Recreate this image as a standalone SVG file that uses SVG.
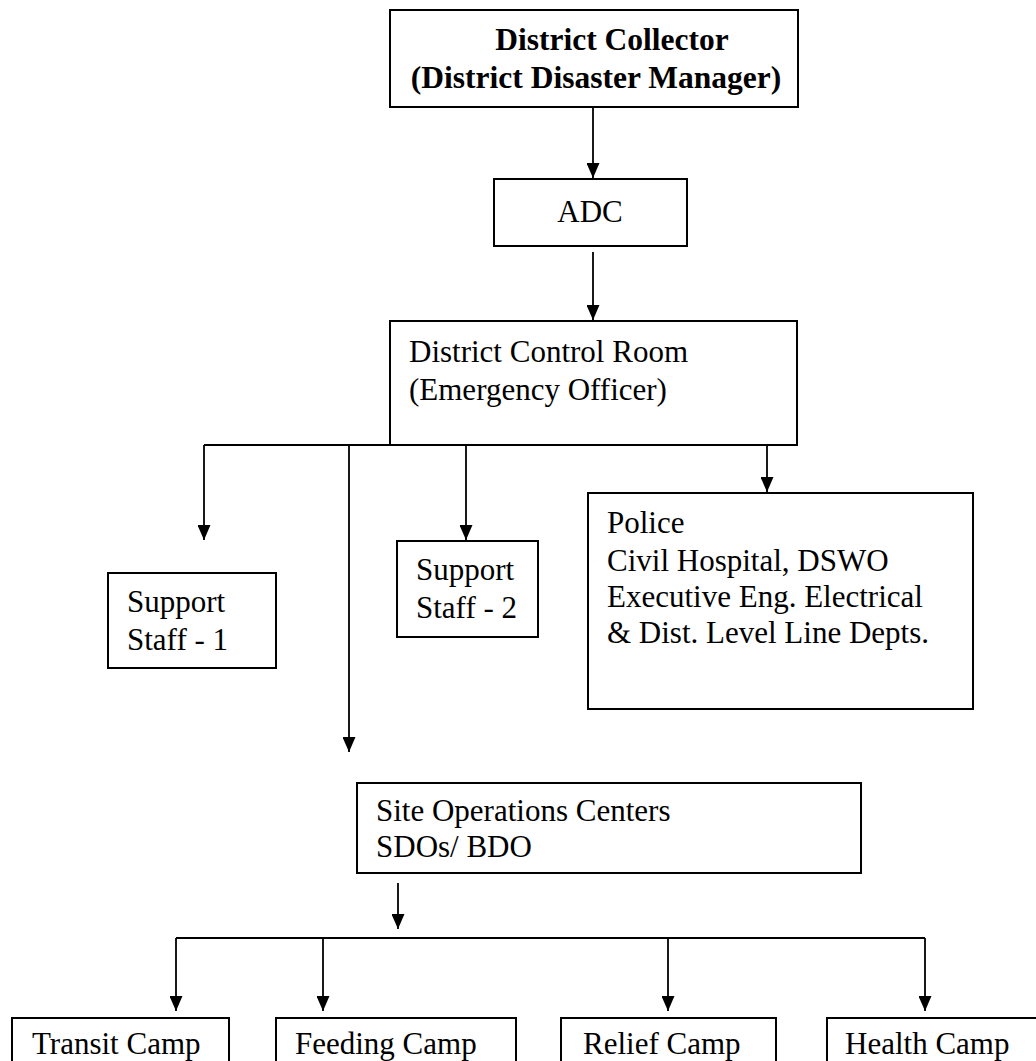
<svg xmlns="http://www.w3.org/2000/svg" width="1036" height="1061" viewBox="0 0 1036 1061">
  <defs>
    <marker id="down" markerUnits="userSpaceOnUse" markerWidth="13" markerHeight="16" refX="6.5" refY="15" viewBox="0 0 13 16">
      <path d="M0,0 L13,0 L6.5,15 Z" fill="#000"/>
    </marker>
  </defs>
  <style>
    .box { fill: #fff; stroke: #000; stroke-width: 2; }
    .t { font-family: "Liberation Serif", "Times New Roman", serif; font-size: 31px; fill: #000; }
    .b { font-weight: bold; font-size: 31.5px; }
    .c { fill: none; stroke: #000; stroke-width: 1.8; }
    .a { fill: none; stroke: #000; stroke-width: 1.8; marker-end: url(#down); }
  </style>
  <rect width="1036" height="1061" fill="#fff"/>

  <!-- connectors -->
  <g id="connectors">
    <line class="a" x1="593" y1="107" x2="593" y2="178"/>
    <line class="a" x1="593" y1="252" x2="593" y2="320"/>
    <!-- branch bar under the control room -->
    <line class="c" x1="204" y1="445" x2="797" y2="445"/>
    <line class="a" x1="204" y1="445" x2="204" y2="540"/>
    <line class="a" x1="349" y1="445" x2="349" y2="752"/>
    <line class="a" x1="466" y1="445" x2="466" y2="540"/>
    <line class="a" x1="767" y1="445" x2="767" y2="492"/>
    <!-- site operations to camps -->
    <line class="a" x1="398" y1="883" x2="398" y2="929"/>
    <line class="c" x1="176" y1="938" x2="925" y2="938"/>
    <line class="a" x1="176" y1="938" x2="176" y2="1011"/>
    <line class="a" x1="323" y1="938" x2="323" y2="1011"/>
    <line class="a" x1="668" y1="938" x2="668" y2="1011"/>
    <line class="a" x1="925" y1="938" x2="925" y2="1011"/>
  </g>

  <g id="district-collector">
    <rect class="box" x="390" y="10" width="408" height="97"/>
    <text class="t b" x="612" y="50" text-anchor="middle">District Collector</text>
    <text class="t b" x="596" y="88" text-anchor="middle">(District Disaster Manager)</text>
  </g>

  <g id="adc">
    <rect class="box" x="494" y="179" width="193" height="67"/>
    <text class="t" x="590" y="222" text-anchor="middle">ADC</text>
  </g>

  <g id="district-control-room">
    <rect class="box" x="390" y="321" width="407" height="124"/>
    <text class="t" x="409" y="362">District Control Room</text>
    <text class="t" x="409" y="400">(Emergency Officer)</text>
  </g>

  <g id="support-staff-1">
    <rect class="box" x="108" y="573" width="168" height="95"/>
    <text class="t" x="127" y="612">Support</text>
    <text class="t" x="127" y="650">Staff - 1</text>
  </g>

  <g id="support-staff-2">
    <rect class="box" x="397" y="541" width="141" height="96"/>
    <text class="t" x="416" y="580">Support</text>
    <text class="t" x="416" y="618">Staff - 2</text>
  </g>

  <g id="line-departments">
    <rect class="box" x="588" y="493" width="385" height="216"/>
    <text class="t" x="607" y="533">Police</text>
    <text class="t" x="607" y="571">Civil Hospital, DSWO</text>
    <text class="t" x="607" y="607">Executive Eng. Electrical</text>
    <text class="t" x="607" y="643">&amp; Dist. Level Line Depts.</text>
  </g>

  <g id="site-operations">
    <rect class="box" x="357" y="783" width="504" height="90"/>
    <text class="t" x="376" y="821">Site Operations Centers</text>
    <text class="t" x="376" y="857">SDOs/ BDO</text>
  </g>

  <g id="transit-camp">
    <rect class="box" x="12" y="1018" width="217" height="70"/>
    <text class="t" x="32" y="1054">Transit Camp</text>
  </g>

  <g id="feeding-camp">
    <rect class="box" x="276" y="1018" width="240" height="70"/>
    <text class="t" x="295" y="1054">Feeding Camp</text>
  </g>

  <g id="relief-camp">
    <rect class="box" x="561" y="1018" width="215" height="70"/>
    <text class="t" x="583" y="1054">Relief Camp</text>
  </g>

  <g id="health-camp">
    <rect class="box" x="827" y="1018" width="230" height="70"/>
    <text class="t" x="845" y="1054">Health Camp</text>
  </g>
</svg>
